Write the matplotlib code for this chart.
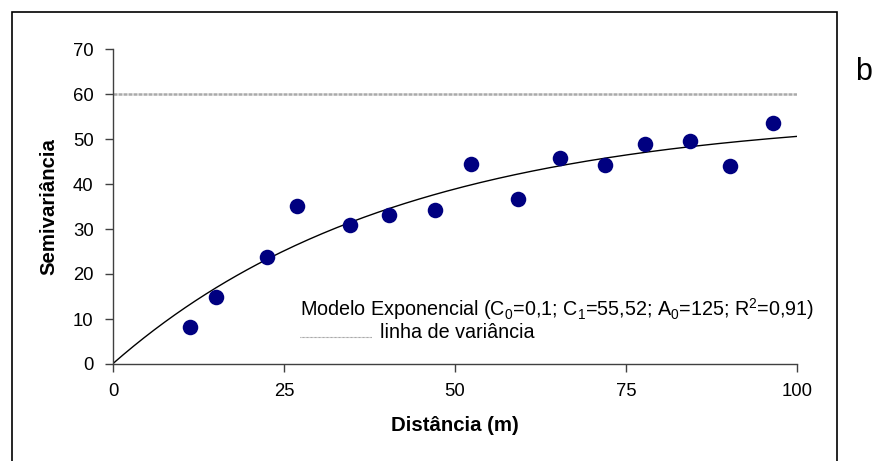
import numpy as np
import matplotlib
matplotlib.use('Agg')
import matplotlib.pyplot as plt
from matplotlib.patches import Rectangle

plt.rcParams['font.family'] = ['Liberation Sans', 'DejaVu Sans']
plt.rcParams['mathtext.fontset'] = 'custom'
plt.rcParams['mathtext.rm'] = 'Liberation Sans'
plt.rcParams['mathtext.it'] = 'Liberation Sans:italic'
plt.rcParams['mathtext.bf'] = 'Liberation Sans:bold'

distancia = [11.2, 15.1, 22.5, 26.9, 34.7, 40.3, 47.1, 52.3, 59.2, 65.4, 71.9, 77.8, 84.4, 90.2, 96.5]
semivar = [8.3, 15.0, 23.7, 35.1, 30.9, 33.2, 34.2, 44.4, 36.7, 45.8, 44.2, 48.9, 49.6, 44.0, 53.6]

# Fitted exponential model, parameters as printed on the chart
c0 = 0.1
c1 = 55.52
a0 = 125
variancia = 60

x_ticks = [0, 25, 50, 75, 100]
y_ticks = [0, 10, 20, 30, 40, 50, 60, 70]

W, H = 877, 461
fig = plt.figure(figsize=(W / 100, H / 100), dpi=100)
ax = fig.add_axes([113 / W, 1 - 364 / H, (797 - 113) / W, (364 - 49) / H])

# outer frame of the chart
fig.patches.append(Rectangle((12 / W, -0.05), (837 - 12) / W, 1.05 - 12 / H,
                             transform=fig.transFigure, fill=False,
                             edgecolor='black', linewidth=1.2))

h = np.linspace(0, 100, 200)
ax.plot(h, c0 + c1 * (1 - np.exp(-3 * h / a0)), color='black', linewidth=1.0, zorder=2)
ax.axhline(variancia, color='#aaaaaa', linewidth=1.8, linestyle=(0, (1.6, 0.4)), zorder=1)
ax.scatter(distancia, semivar, s=125, color='#000080', zorder=3, linewidths=0)

ax.set_xlim(0, 100)
ax.set_ylim(0, 70)
ax.set_xticks(x_ticks)
ax.set_yticks(y_ticks)
ax.spines['top'].set_visible(False)
ax.spines['right'].set_visible(False)
for s in ['left', 'bottom']:
    ax.spines[s].set_color('#404040')
    ax.spines[s].set_linewidth(1.0)
ax.tick_params(direction='out', length=6, width=1.0, color='#404040',
               labelsize=13.3, pad=8)

ax.set_xlabel('Distância (m)', fontsize=14.7, fontweight='bold', labelpad=11)
ax.set_ylabel('Semivariância', fontsize=14.7, fontweight='bold')
ax.yaxis.set_label_coords(-0.080, 0.5)

# legend drawn by hand, as in the original
ax.text((300 - 113) / 684, (364 - 309) / 315,
        'Modelo Exponencial (C$_0$=0,1; C$_1$=55,52; A$_0$=125; R$^2$=0,91)',
        transform=ax.transAxes, fontsize=14.2, va='center', ha='left')
ax.plot([(300 - 113) / 684, (372 - 113) / 684], [(364 - 337) / 315] * 2,
        transform=ax.transAxes, color='#808080', linewidth=0.8,
        linestyle=(0, (0.6, 0.6)), clip_on=False)
ax.text((380 - 113) / 684, (364 - 333) / 315, 'linha de variância',
        transform=ax.transAxes, fontsize=14.2, va='center', ha='left')

fig.text(855 / W, 1 - 72 / H, 'b', fontsize=22, va='center', ha='left')

fig.savefig('out.png', dpi=100)
